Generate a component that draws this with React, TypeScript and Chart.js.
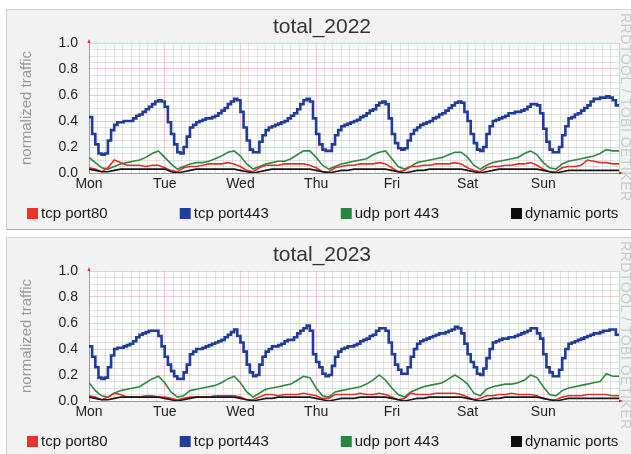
import React, { useEffect, useRef } from 'react';
import { Chart, registerables } from 'chart.js';

Chart.register(...registerables);

// Weekly traffic. tcp port443 is sampled hourly, the other series every two hours.
const HOURLY = 1;
const TWO_HOURLY = 2;
const WEEK_HOURS = 168;
const GRID_STEP_HOURS = 8 / 3;

const dayLabels = ['Mon', 'Tue', 'Wed', 'Thu', 'Fri', 'Sat', 'Sun'];
const seriesNames = ['tcp port80', 'tcp port443', 'udp port 443', 'dynamic ports'];
const yTickValues = [0, 0.05, 0.1, 0.15, 0.2, 0.25, 0.3, 0.35, 0.4, 0.45, 0.5, 0.55, 0.6, 0.65, 0.7, 0.75, 0.8, 0.85, 0.9, 0.95, 1.0];

// ---- 2022 ----
const tcp80_2022 = [
  0.04, 0.03, 0.01, 0.04, 0.10, 0.08, 0.06, 0.06, 0.06, 0.05, 0.06, 0.06,
  0.04, 0.02, 0.01, 0.04, 0.05, 0.05, 0.06, 0.07, 0.07, 0.07, 0.08, 0.07,
  0.05, 0.02, 0.01, 0.04, 0.06, 0.06, 0.06, 0.07, 0.07, 0.07, 0.07, 0.06,
  0.04, 0.01, 0.01, 0.04, 0.05, 0.06, 0.06, 0.07, 0.07, 0.07, 0.08, 0.07,
  0.04, 0.01, 0.02, 0.05, 0.05, 0.06, 0.06, 0.07, 0.07, 0.07, 0.08, 0.07,
  0.04, 0.02, 0.01, 0.04, 0.05, 0.05, 0.06, 0.06, 0.07, 0.07, 0.08, 0.06,
  0.03, 0.01, 0.01, 0.04, 0.05, 0.05, 0.06, 0.10, 0.09, 0.08, 0.08, 0.07,
];
const tcp443_2022 = [
  0.43, 0.30, 0.22, 0.15, 0.14, 0.15, 0.25, 0.33, 0.37, 0.39, 0.39, 0.40, 0.40, 0.40, 0.42, 0.44, 0.45, 0.47, 0.49, 0.51, 0.53, 0.55, 0.56, 0.55,
  0.51, 0.39, 0.30, 0.22, 0.16, 0.15, 0.20, 0.28, 0.35, 0.37, 0.39, 0.40, 0.41, 0.42, 0.42, 0.43, 0.44, 0.46, 0.48, 0.50, 0.53, 0.55, 0.57, 0.56,
  0.47, 0.35, 0.25, 0.18, 0.16, 0.16, 0.24, 0.29, 0.33, 0.35, 0.36, 0.37, 0.38, 0.39, 0.40, 0.42, 0.44, 0.46, 0.49, 0.53, 0.56, 0.57, 0.55, 0.42,
  0.30, 0.22, 0.18, 0.17, 0.17, 0.22, 0.29, 0.33, 0.36, 0.37, 0.38, 0.39, 0.40, 0.41, 0.43, 0.44, 0.46, 0.48, 0.49, 0.52, 0.54, 0.55, 0.53, 0.42,
  0.30, 0.23, 0.19, 0.18, 0.19, 0.25, 0.30, 0.33, 0.35, 0.37, 0.38, 0.39, 0.40, 0.42, 0.43, 0.45, 0.46, 0.48, 0.50, 0.52, 0.54, 0.55, 0.54, 0.47,
  0.40, 0.30, 0.23, 0.18, 0.17, 0.20, 0.30, 0.36, 0.40, 0.41, 0.42, 0.43, 0.44, 0.46, 0.46, 0.47, 0.47, 0.48, 0.49, 0.51, 0.53, 0.53, 0.52, 0.46,
  0.34, 0.24, 0.18, 0.16, 0.16, 0.20, 0.29, 0.36, 0.42, 0.43, 0.45, 0.46, 0.48, 0.50, 0.52, 0.55, 0.57, 0.57, 0.58, 0.58, 0.59, 0.58, 0.56, 0.52,
];
const udp443_2022 = [
  0.12, 0.08, 0.04, 0.03, 0.05, 0.07, 0.08, 0.09, 0.10, 0.12, 0.15, 0.17,
  0.12, 0.07, 0.03, 0.05, 0.07, 0.08, 0.08, 0.09, 0.11, 0.13, 0.16, 0.17,
  0.13, 0.07, 0.03, 0.05, 0.07, 0.08, 0.09, 0.09, 0.11, 0.14, 0.17, 0.17,
  0.12, 0.06, 0.03, 0.05, 0.07, 0.08, 0.09, 0.10, 0.11, 0.14, 0.16, 0.17,
  0.11, 0.05, 0.03, 0.05, 0.08, 0.09, 0.10, 0.11, 0.12, 0.14, 0.16, 0.16,
  0.12, 0.06, 0.03, 0.06, 0.08, 0.09, 0.10, 0.11, 0.12, 0.15, 0.17, 0.14,
  0.08, 0.04, 0.03, 0.07, 0.09, 0.10, 0.11, 0.12, 0.13, 0.15, 0.18, 0.17,
];
const dynamic_2022 = [
  0.03, 0.02, 0.01, 0.01, 0.02, 0.03, 0.03, 0.03, 0.03, 0.03, 0.03, 0.03,
  0.03, 0.01, 0.00, 0.01, 0.02, 0.03, 0.03, 0.03, 0.03, 0.03, 0.03, 0.03,
  0.02, 0.01, 0.00, 0.01, 0.02, 0.03, 0.03, 0.03, 0.03, 0.03, 0.03, 0.03,
  0.02, 0.01, 0.00, 0.01, 0.02, 0.02, 0.03, 0.03, 0.03, 0.03, 0.03, 0.03,
  0.02, 0.01, 0.00, 0.01, 0.02, 0.02, 0.03, 0.03, 0.03, 0.03, 0.03, 0.03,
  0.02, 0.01, 0.00, 0.01, 0.02, 0.03, 0.03, 0.03, 0.03, 0.03, 0.03, 0.03,
  0.02, 0.01, 0.00, 0.01, 0.02, 0.02, 0.02, 0.02, 0.02, 0.02, 0.02, 0.02,
];

// ---- 2023 ----
const tcp80_2023 = [
  0.04, 0.03, 0.01, 0.03, 0.06, 0.05, 0.03, 0.03, 0.03, 0.04, 0.04, 0.03,
  0.03, 0.02, 0.01, 0.02, 0.03, 0.03, 0.03, 0.03, 0.04, 0.04, 0.04, 0.04,
  0.03, 0.01, 0.01, 0.03, 0.05, 0.05, 0.04, 0.05, 0.05, 0.05, 0.06, 0.05,
  0.04, 0.02, 0.02, 0.05, 0.05, 0.05, 0.05, 0.06, 0.05, 0.05, 0.06, 0.05,
  0.03, 0.01, 0.02, 0.06, 0.05, 0.05, 0.05, 0.06, 0.06, 0.06, 0.06, 0.05,
  0.03, 0.01, 0.02, 0.04, 0.04, 0.05, 0.05, 0.06, 0.05, 0.05, 0.05, 0.04,
  0.02, 0.01, 0.01, 0.03, 0.04, 0.04, 0.04, 0.05, 0.05, 0.05, 0.05, 0.04,
];
const tcp443_2023 = [
  0.42, 0.34, 0.26, 0.18, 0.17, 0.18, 0.26, 0.35, 0.40, 0.41, 0.41, 0.42, 0.43, 0.44, 0.46, 0.49, 0.51, 0.52, 0.53, 0.54, 0.54, 0.54, 0.50, 0.42,
  0.34, 0.28, 0.23, 0.19, 0.17, 0.17, 0.22, 0.28, 0.36, 0.38, 0.40, 0.40, 0.41, 0.42, 0.43, 0.44, 0.45, 0.46, 0.47, 0.49, 0.51, 0.53, 0.55, 0.50,
  0.45, 0.38, 0.28, 0.22, 0.19, 0.20, 0.28, 0.34, 0.38, 0.40, 0.42, 0.42, 0.43, 0.44, 0.46, 0.47, 0.47, 0.49, 0.52, 0.54, 0.56, 0.58, 0.54, 0.36,
  0.30, 0.26, 0.21, 0.19, 0.20, 0.27, 0.34, 0.38, 0.40, 0.41, 0.42, 0.42, 0.43, 0.44, 0.46, 0.47, 0.48, 0.50, 0.51, 0.54, 0.56, 0.56, 0.54, 0.45,
  0.36, 0.28, 0.24, 0.21, 0.21, 0.26, 0.34, 0.40, 0.44, 0.46, 0.47, 0.48, 0.49, 0.50, 0.51, 0.52, 0.52, 0.53, 0.54, 0.55, 0.57, 0.56, 0.52, 0.44,
  0.36, 0.30, 0.26, 0.21, 0.20, 0.25, 0.33, 0.40, 0.45, 0.46, 0.47, 0.48, 0.48, 0.49, 0.49, 0.50, 0.51, 0.52, 0.53, 0.54, 0.56, 0.56, 0.52, 0.48,
  0.36, 0.26, 0.22, 0.19, 0.19, 0.24, 0.33, 0.40, 0.44, 0.45, 0.46, 0.47, 0.48, 0.49, 0.50, 0.51, 0.52, 0.52, 0.53, 0.54, 0.54, 0.55, 0.55, 0.51,
];
const udp443_2023 = [
  0.14, 0.08, 0.04, 0.03, 0.06, 0.08, 0.09, 0.10, 0.11, 0.14, 0.17, 0.19,
  0.14, 0.07, 0.03, 0.04, 0.08, 0.09, 0.10, 0.11, 0.12, 0.14, 0.17, 0.19,
  0.14, 0.07, 0.03, 0.06, 0.09, 0.10, 0.11, 0.12, 0.13, 0.16, 0.19, 0.18,
  0.10, 0.04, 0.03, 0.07, 0.08, 0.09, 0.10, 0.11, 0.13, 0.16, 0.20, 0.16,
  0.10, 0.05, 0.03, 0.07, 0.09, 0.11, 0.12, 0.13, 0.14, 0.17, 0.20, 0.17,
  0.13, 0.06, 0.04, 0.09, 0.11, 0.12, 0.13, 0.13, 0.14, 0.16, 0.20, 0.18,
  0.11, 0.05, 0.04, 0.08, 0.10, 0.11, 0.12, 0.13, 0.14, 0.15, 0.21, 0.19,
];
const dynamic_2023 = [
  0.03, 0.02, 0.01, 0.01, 0.02, 0.03, 0.03, 0.03, 0.03, 0.03, 0.03, 0.03,
  0.02, 0.01, 0.00, 0.01, 0.02, 0.03, 0.03, 0.03, 0.03, 0.03, 0.03, 0.03,
  0.02, 0.01, 0.00, 0.01, 0.02, 0.02, 0.03, 0.03, 0.03, 0.03, 0.03, 0.03,
  0.02, 0.01, 0.00, 0.01, 0.02, 0.02, 0.02, 0.03, 0.03, 0.03, 0.03, 0.03,
  0.02, 0.01, 0.00, 0.01, 0.02, 0.02, 0.03, 0.03, 0.03, 0.03, 0.03, 0.03,
  0.02, 0.01, 0.00, 0.01, 0.02, 0.02, 0.03, 0.03, 0.03, 0.03, 0.03, 0.03,
  0.02, 0.01, 0.00, 0.01, 0.02, 0.02, 0.02, 0.02, 0.02, 0.02, 0.02, 0.02,
];

const FONT = '"Liberation Sans", Arial, Helvetica, sans-serif';
const LINE_COLORS = ['#e3302b', '#1f3c9c', '#2b8a40', '#151515'];
const BOX_COLORS = ['#e8332c', '#1f3f9f', '#2a8540', '#0d0d0d'];
const LINE_WIDTHS = [1.6, 2.6, 1.6, 1.6];
const SAMPLE_STEPS = [TWO_HOURLY, HOURLY, TWO_HOURLY, TWO_HOURLY];
const STEPPED = [false, true, false, false];
const DRAW_ORDER = [1, 3, 2, 0];

const PANEL_W = 625;
const PANEL_H = 221;

const MINOR_GRID = 'rgba(190,190,190,0.45)';
const MAJOR_GRID = 'rgba(232,140,140,0.45)';

function toPoints(values: number[], step: number) {
  const pts = values.map((v, i) => ({ x: i * step, y: v }));
  pts.push({ x: WEEK_HOURS, y: values[values.length - 1] });
  return pts;
}

const isMultiple = (v: number, step: number) => Math.abs(v / step - Math.round(v / step)) < 1e-6;

// Title, legend row, watermark and axis arrow heads, drawn around the plot.
const decorations = {
  id: 'rrdDecor',
  beforeDraw(chart: any) {
    const { ctx, chartArea } = chart;
    ctx.save();
    ctx.fillStyle = '#ffffff';
    ctx.fillRect(chartArea.left, chartArea.top, chartArea.right - chartArea.left, chartArea.bottom - chartArea.top);
    ctx.restore();
  },
  afterDraw(chart: any, _args: any, opts: any) {
    const { ctx, chartArea } = chart;
    ctx.save();

    // title
    ctx.fillStyle = '#333333';
    ctx.font = `21px ${FONT}`;
    ctx.textAlign = 'center';
    ctx.textBaseline = 'alphabetic';
    ctx.fillText(opts.title, 316, 24);

    // legend
    ctx.font = `15px ${FONT}`;
    ctx.textAlign = 'left';
    ctx.textBaseline = 'middle';
    let x = 21;
    seriesNames.forEach((name, i) => {
      ctx.fillStyle = BOX_COLORS[i];
      ctx.fillRect(x, 199, 11, 11);
      ctx.fillStyle = '#1a1a1a';
      ctx.fillText(name, x + 14, 205);
      x += 14 + ctx.measureText(name).width + 72;
    });

    // watermark
    ctx.save();
    ctx.translate(619, 4);
    ctx.rotate(Math.PI / 2);
    ctx.fillStyle = '#c9c9c9';
    ctx.font = `14px ${FONT}`;
    (ctx as any).letterSpacing = '0.5px';
    ctx.textAlign = 'left';
    ctx.textBaseline = 'middle';
    ctx.fillText('RRDTOOL / TOBI OETIKER', 0, 0);
    ctx.restore();

    // small red arrow heads at the axis ends
    ctx.fillStyle = '#d42a2a';
    ctx.beginPath();
    ctx.moveTo(chartArea.left - 1.5, chartArea.top);
    ctx.lineTo(chartArea.left + 1.5, chartArea.top);
    ctx.lineTo(chartArea.left, chartArea.top - 4);
    ctx.closePath();
    ctx.fill();
    ctx.beginPath();
    ctx.moveTo(chartArea.right, chartArea.bottom - 1.5);
    ctx.lineTo(chartArea.right, chartArea.bottom + 1.5);
    ctx.lineTo(chartArea.right + 4, chartArea.bottom);
    ctx.closePath();
    ctx.fill();

    ctx.restore();
  },
};

function TrafficPanel({ title, series, top }: { title: string; series: number[][]; top: number }) {
  const ref = useRef<HTMLCanvasElement | null>(null);

  useEffect(() => {
    if (!ref.current) return;
    const chart = new Chart(ref.current, {
      type: 'line',
      data: {
        datasets: series.map((vals, i) => ({
          label: seriesNames[i],
          data: toPoints(vals, SAMPLE_STEPS[i]),
          borderColor: LINE_COLORS[i],
          backgroundColor: LINE_COLORS[i],
          borderWidth: LINE_WIDTHS[i],
          stepped: STEPPED[i],
          tension: 0,
          pointRadius: 0,
          fill: false,
          order: DRAW_ORDER[i],
        })),
      },
      options: {
        responsive: false,
        animation: false,
        devicePixelRatio: 1,
        events: [],
        layout: { padding: { top: 34, right: 12, bottom: 37, left: 0 } },
        plugins: {
          legend: { display: false },
          tooltip: { enabled: false },
          title: { display: false },
          rrdDecor: { title },
        } as any,
        scales: {
          x: {
            type: 'linear',
            min: 0,
            max: WEEK_HOURS,
            afterBuildTicks: (scale: any) => {
              const ticks = [];
              for (let i = 0; i * GRID_STEP_HOURS <= WEEK_HOURS + 1e-9; i++) ticks.push({ value: i * GRID_STEP_HOURS });
              scale.ticks = ticks;
            },
            afterFit: (scale: any) => {
              scale.height = 20;
            },
            ticks: {
              autoSkip: false,
              maxRotation: 0,
              minRotation: 0,
              padding: 3,
              color: '#1e1e1e',
              font: { family: FONT, size: 14 },
              callback: (value: any) => {
                const v = Number(value);
                if (!isMultiple(v, 24)) return '';
                const d = Math.round(v / 24);
                return d < dayLabels.length ? dayLabels[d] : '';
              },
            },
            grid: {
              drawTicks: false,
              lineWidth: 1,
              color: (c: any) => (c.tick && isMultiple(c.tick.value, 24) ? MAJOR_GRID : MINOR_GRID),
            },
            border: { display: true, color: '#9a9a9a', width: 1 },
          },
          y: {
            min: 0,
            max: 1,
            afterBuildTicks: (scale: any) => {
              scale.ticks = yTickValues.map((v) => ({ value: v }));
            },
            afterFit: (scale: any) => {
              scale.width = 83;
            },
            ticks: {
              autoSkip: false,
              padding: 11,
              color: '#1e1e1e',
              font: { family: FONT, size: 14 },
              callback: (value: any) => (isMultiple(Number(value), 0.2) ? Number(value).toFixed(1) : ''),
            },
            grid: {
              drawTicks: false,
              lineWidth: 1,
              color: (c: any) => (c.tick && isMultiple(c.tick.value, 0.2) ? MAJOR_GRID : MINOR_GRID),
            },
            border: { display: true, color: '#9a9a9a', width: 1 },
            title: {
              display: true,
              text: 'normalized traffic',
              color: '#9a9a9a',
              font: { family: FONT, size: 15 },
              padding: { top: 12, bottom: 0 },
            },
          },
        },
      } as any,
      plugins: [decorations],
    });
    return () => chart.destroy();
  }, [title, series]);

  return (
    <div
      style={{
        position: 'absolute',
        left: 6,
        top,
        width: PANEL_W,
        height: PANEL_H,
        background: '#f2f2f2',
        borderTop: '1px solid #cfcfcf',
        borderLeft: '1px solid #cfcfcf',
        borderBottom: '1px solid #a8a8a8',
        boxSizing: 'border-box',
        overflow: 'hidden',
      }}
    >
      <canvas ref={ref} width={PANEL_W} height={PANEL_H} style={{ position: 'absolute', left: -1, top: -1, width: PANEL_W, height: PANEL_H }} />
    </div>
  );
}

const series2022 = [tcp80_2022, tcp443_2022, udp443_2022, dynamic_2022];
const series2023 = [tcp80_2023, tcp443_2023, udp443_2023, dynamic_2023];

export default function App() {
  return (
    <div style={{ position: 'fixed', left: 0, top: 0, width: 631, height: 454, background: '#ffffff', overflow: 'hidden' }}>
      <TrafficPanel title="total_2022" series={series2022} top={9} />
      <TrafficPanel title="total_2023" series={series2023} top={237} />
    </div>
  );
}
